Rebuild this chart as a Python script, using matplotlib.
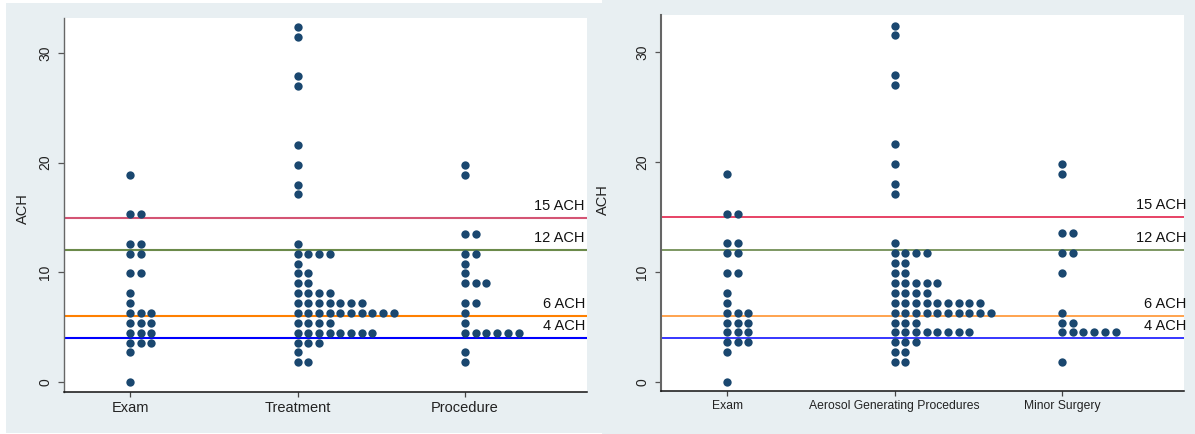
import matplotlib
matplotlib.use("Agg")
import matplotlib.pyplot as plt
from matplotlib.patches import Rectangle

plt.rcParams['font.family'] = ['Liberation Sans', 'DejaVu Sans']

# ---------------- data ----------------
cats_left = ["Exam", "Treatment", "Procedure"]
cats_right = ["Exam", "Aerosol Generating Procedures", "Minor Surgery"]

# binned ACH values (dot rows) and number of dots in each row
exam_ach = [18.9, 15.3, 12.6, 11.7, 9.9, 8.1, 7.2, 6.3, 5.4, 4.5, 3.6, 2.7, 0.0]
exam_n = [1, 2, 2, 2, 2, 1, 1, 3, 3, 3, 3, 1, 1]

treat_ach = [32.4, 31.5, 27.9, 27.0, 21.6, 19.8, 18.0, 17.1, 12.6, 11.7, 10.8,
             9.9, 9.0, 8.1, 7.2, 6.3, 5.4, 4.5, 3.6, 2.7, 1.8]
treat_n = [1, 1, 1, 1, 1, 1, 1, 1, 1, 4, 1, 2, 2, 4, 7, 10, 4, 8, 3, 1, 2]

proc_ach = [19.8, 18.9, 13.5, 11.7, 10.8, 9.9, 9.0, 7.2, 6.3, 5.4, 4.5, 2.7, 1.8]
proc_n = [1, 1, 2, 2, 1, 1, 3, 2, 1, 1, 6, 1, 1]

agp_ach = [32.4, 31.5, 27.9, 27.0, 21.6, 19.8, 18.0, 17.1, 12.6, 11.7, 10.8,
           9.9, 9.0, 8.1, 7.2, 6.3, 5.4, 4.5, 3.6, 2.7, 1.8]
agp_n = [1, 1, 1, 1, 1, 1, 1, 1, 1, 4, 2, 2, 5, 4, 9, 10, 3, 8, 3, 2, 2]

ms_ach = [19.8, 18.9, 13.5, 11.7, 9.9, 6.3, 5.4, 4.5, 1.8]
ms_n = [1, 1, 2, 2, 1, 1, 2, 6, 1]

thresholds = [15, 12, 6, 4]
threshold_labels = ["15 ACH", "12 ACH", "6 ACH", "4 ACH"]
yticks = [0, 10, 20, 30]

# ---------------- style ----------------
W, H = 1195, 434
DOT = "#1a476f"
BG = "#e8eff2"
left_line_colors = ["#d45474", "#6b8a4a", "#ff8000", "#0000ff"]
right_line_colors = ["#e0103c", "#5a7a38", "#ff8a1e", "#0000ff"]
DX = 0.0639  # horizontal step between stacked dots (category units)

fig = plt.figure(figsize=(W / 100, H / 100), dpi=100)
fig.patch.set_facecolor("white")


def fx(px):
    return px / W


def fy(py):
    return 1 - py / H


fig.patches.append(Rectangle((fx(6), fy(433)), fx(602) - fx(6), fy(3) - fy(433),
                             transform=fig.transFigure, facecolor=BG, edgecolor='none', zorder=-5))
fig.patches.append(Rectangle((fx(602), 0), 1 - fx(602), 1,
                             transform=fig.transFigure, facecolor=BG, edgecolor='none', zorder=-5))


def make_panel(rect_px, ylim, cats, groups, line_colors, lw, xfs, spine_lw, ylab_xy, lab_dx):
    x0, y0, x1, y1 = rect_px
    ax = fig.add_axes([fx(x0), fy(y1), fx(x1) - fx(x0), fy(y0) - fy(y1)])
    ax.set_zorder(1)
    ax.set_facecolor("white")
    ax.set_xlim(0.606, 3.728)
    ax.set_ylim(*ylim)
    for lev, col, lab in zip(thresholds, line_colors, threshold_labels):
        ax.axhline(lev, color=col, lw=lw, zorder=2)
        ax.annotate(lab, xy=(1, lev), xycoords=('axes fraction', 'data'),
                    xytext=(lab_dx, 12), textcoords='offset pixels',
                    ha='right', va='center', fontsize=10.5, color='#111111',
                    annotation_clip=False)
    for i, (vals, counts) in enumerate(groups):
        xpos = i + 1
        for v, n in zip(vals, counts):
            xs = [xpos + DX * j for j in range(n)]
            ax.plot(xs, [v] * n, 'o', ms=6.0, color=DOT, mec='none', zorder=3, clip_on=False)
    ax.set_xticks([1, 2, 3])
    ax.set_xticklabels(cats, fontsize=xfs, color='#222222')
    ax.set_yticks(yticks)
    ax.set_yticklabels([str(t) for t in yticks], rotation=90, va='center', fontsize=10, color='#222222')
    ax.tick_params(axis='y', length=4.3, width=0.9, color='#555555', pad=4)
    ax.tick_params(axis='x', length=3.6, width=0.9, color='#444444', pad=3)
    for s in ['top', 'right']:
        ax.spines[s].set_visible(False)
    ax.spines['left'].set_color('#666666')
    ax.spines['left'].set_linewidth(spine_lw)
    ax.spines['bottom'].set_color('#111111')
    ax.spines['bottom'].set_linewidth(1.1)
    ax.set_ylabel("ACH", fontsize=10.5, color='#222222')
    ax.yaxis.set_label_coords(*ylab_xy)
    return ax


make_panel((64, 18, 587, 392), (-0.91, 33.19), cats_left,
           [(exam_ach, exam_n), (treat_ach, treat_n), (proc_ach, proc_n)],
           left_line_colors, 1.5, 10.5, 1.0, (-0.065, 0.49), -2)

make_panel((661, 15, 1184, 391), (-0.82, 33.36), cats_right,
           [(exam_ach, exam_n), (agp_ach, agp_n), (ms_ach, ms_n)],
           right_line_colors, 1.1, 8.7, 1.5, (-0.0975, 0.51), 2)

fig.savefig("out.png", dpi=100, facecolor=fig.get_facecolor())
